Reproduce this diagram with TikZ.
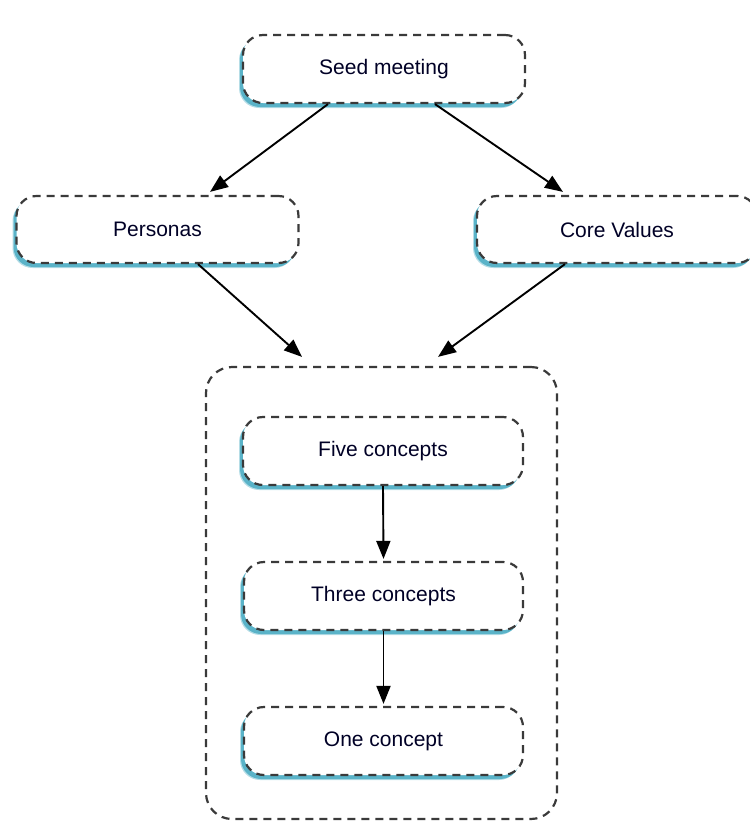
\documentclass[tikz,border=0pt]{standalone}
\usepackage{fontspec}
\setmainfont{Liberation Sans}
\usetikzlibrary{arrows.meta,shadows}
\definecolor{shade}{HTML}{5AB3C8}
\definecolor{edge}{HTML}{3A3A3A}
\tikzset{
  stage/.style={draw=edge, line width=2.2pt, dash pattern=on 8pt off 6pt,
    rounded corners=20pt, fill=white,
    drop shadow={shadow xshift=-4pt, shadow yshift=-5pt, fill=shade, opacity=0.45},
    drop shadow={shadow xshift=-3pt, shadow yshift=-4pt, fill=shade, opacity=1},
    font=\fontsize{21}{24}\selectfont, text=black!85!blue},
  group/.style={draw=edge, line width=2.2pt, dash pattern=on 8pt off 6pt,
    rounded corners=26pt},
  arr/.style={line width=1.9pt, -{Triangle[length=18pt,width=14pt]}}
}
\begin{document}
\begin{tikzpicture}[x=1pt,y=-1pt]
\useasboundingbox (0,0) rectangle (750,823);
% outer container for the concept rounds
\node[group, minimum width=351pt, minimum height=452pt] (box) at (381.5,593) {};
% top level
\node[stage, minimum width=282pt, minimum height=68pt] (seed) at (384,69) {Seed meeting};
\node[stage, minimum width=282pt, minimum height=67pt] (personas) at (157.5,229.5) {Personas};
\node[stage, minimum width=280pt, minimum height=67pt] (core) at (617,229.5) {Core Values};
% concept rounds
\node[stage, minimum width=280pt, minimum height=68pt] (five) at (383,451) {Five concepts};
\node[stage, minimum width=279pt, minimum height=68pt] (three) at (383.5,596) {Three concepts};
\node[stage, minimum width=279pt, minimum height=68pt] (one) at (383.5,741) {One concept};
% connectors
\draw[arr] ([xshift=-56pt]seed.south) -- ([xshift=52.5pt,yshift=3pt]personas.north);
\draw[arr] ([xshift=51pt]seed.south) -- ([xshift=-54pt,yshift=3pt]core.north);
\draw[arr] ([xshift=40.5pt]personas.south) -- ([xshift=-79.5pt,yshift=9pt]box.north);
\draw[arr] ([xshift=-52pt]core.south) -- ([xshift=56.5pt,yshift=9pt]box.north);
\draw[arr] (five.south) -- ([yshift=2pt]three.north);
\draw[arr] (three.south) -- ([yshift=2pt]one.north);
\end{tikzpicture}
\end{document}
